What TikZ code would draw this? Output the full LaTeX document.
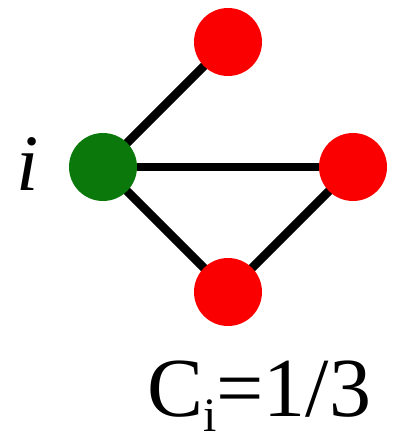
\documentclass[tikz,border=0pt]{standalone}
\usepackage{fontspec}
\setmainfont{Liberation Serif}
\usetikzlibrary{backgrounds}
\definecolor{nodered}{RGB}{250,0,0}
\definecolor{nodegreen}{RGB}{10,120,10}
\tikzset{
  vert/.style={circle, minimum size=68pt, inner sep=0pt},
  redv/.style={vert, fill=nodered},
  greenv/.style={vert, fill=nodegreen},
  edge/.style={line width=8.5pt, black}
}
\begin{document}
\begin{tikzpicture}[x=1pt,y=-1pt]
\useasboundingbox (0,0) rectangle (394,441);
\node[greenv] (g) at (103,167) {};
\node[redv] (t) at (228,42) {};
\node[redv] (r) at (353,167) {};
\node[redv] (b) at (228,292) {};
\node[anchor=base, inner sep=0pt, font=\fontsize{80}{80}\selectfont\itshape] (lbl) at (28,190) {i};
\node[anchor=base west, inner sep=0pt, font=\fontsize{84}{84}\selectfont] (ci) at (147,416) {C\raisebox{-0.18em}{\fontsize{48}{48}\selectfont i}=1/3};
\begin{scope}[on background layer]
\draw[edge] (g.center) -- (t.center);
\draw[edge] (g.center) -- (r.center);
\draw[edge] (g.center) -- (b.center);
\draw[edge] (b.center) -- (r.center);
\end{scope}
\end{tikzpicture}
\end{document}
